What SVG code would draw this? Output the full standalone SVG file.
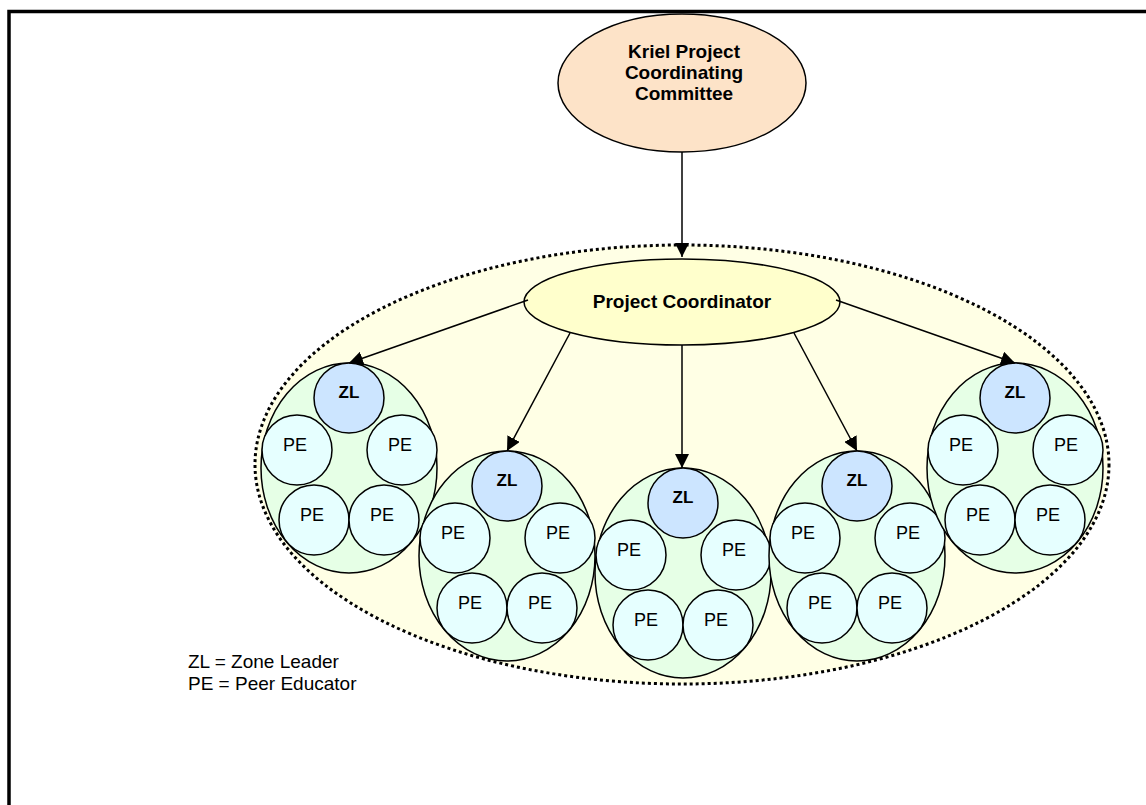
<svg xmlns="http://www.w3.org/2000/svg" width="1146" height="805" viewBox="0 0 1146 805">
<style>
  .t { font-family: "Liberation Sans", Arial, sans-serif; fill: #000; }
  .b { font-weight: bold; }
  .ol { stroke: #000; stroke-width: 1.5; }
  .cl { fill: #E6FFE6; }
  .zl { fill: #CCE5FF; }
  .pe { fill: #E6FFFF; }
  .conn { stroke: #000; stroke-width: 1.5; fill: none; marker-end: url(#ah); }
</style>
<defs>
  <marker id="ah" markerUnits="userSpaceOnUse" markerWidth="14" markerHeight="14" viewBox="0 0 14 14" refX="14" refY="7" orient="auto">
    <path d="M0,0 L14,7 L0,14 z" fill="#000"/>
  </marker>
  <g id="cluster">
    <ellipse class="cl ol" cx="0" cy="0" rx="88" ry="105"/>
    <circle class="zl ol" cx="0" cy="-70" r="35"/>
    <circle class="pe ol" cx="-52" cy="-18" r="35"/>
    <circle class="pe ol" cx="53" cy="-18" r="35"/>
    <circle class="pe ol" cx="-35" cy="52" r="35"/>
    <circle class="pe ol" cx="35" cy="52" r="35"/>
    <text class="t b" x="0" y="-70" font-size="17" text-anchor="middle">ZL</text>
    <text class="t" x="-54" y="-17" font-size="18" text-anchor="middle">PE</text>
    <text class="t" x="51" y="-17" font-size="18" text-anchor="middle">PE</text>
    <text class="t" x="-37" y="53" font-size="18" text-anchor="middle">PE</text>
    <text class="t" x="33" y="53" font-size="18" text-anchor="middle">PE</text>
  </g>
</defs>
<rect x="0" y="0" width="1146" height="805" fill="#fff"/>
<path d="M9,805 V11.5 H1146" fill="none" stroke="#000" stroke-width="3.5"/>

<g id="zone-area">
  <ellipse cx="682" cy="464.5" rx="427" ry="219.5" fill="#FFFFE5" stroke="#000" stroke-width="3" stroke-dasharray="3 3"/>
</g>

<g id="committee">
  <ellipse cx="682" cy="83" rx="124" ry="69" fill="#FDE3C8" class="ol"/>
  <text class="t b" font-size="19" text-anchor="middle" x="684" y="58">Kriel Project</text>
  <text class="t b" font-size="19" text-anchor="middle" x="684" y="79">Coordinating</text>
  <text class="t b" font-size="19" text-anchor="middle" x="684" y="100">Committee</text>
</g>

<g id="coordinator">
  <ellipse cx="682" cy="302" rx="158" ry="43" fill="#FFFFCC" class="ol"/>
  <text class="t b" font-size="19" text-anchor="middle" x="682" y="308">Project Coordinator</text>
</g>

<g id="cluster1"><use href="#cluster" x="349" y="468"/></g>
<g id="cluster2"><use href="#cluster" x="507" y="556"/></g>
<g id="cluster3"><use href="#cluster" x="683" y="573"/></g>
<g id="cluster4"><use href="#cluster" x="857" y="556"/></g>
<g id="cluster5"><use href="#cluster" x="1015" y="468"/></g>

<g id="connectors">
  <line class="conn" x1="682" y1="152" x2="682" y2="257"/>
  <line class="conn" x1="528" y1="300" x2="349" y2="363"/>
  <line class="conn" x1="570" y1="333" x2="507" y2="451"/>
  <line class="conn" x1="682" y1="345" x2="682" y2="468"/>
  <line class="conn" x1="794" y1="333" x2="857" y2="451"/>
  <line class="conn" x1="836" y1="300" x2="1015" y2="363"/>
</g>

<g id="legend">
  <text class="t" font-size="19" x="188" y="668">ZL = Zone Leader</text>
  <text class="t" font-size="19" x="188" y="690">PE = Peer Educator</text>
</g>
</svg>
